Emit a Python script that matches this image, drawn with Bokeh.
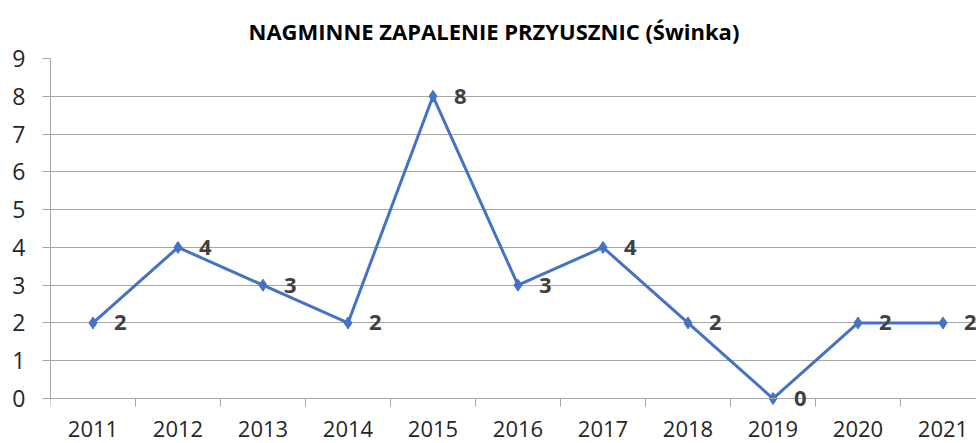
from bokeh.plotting import figure
from bokeh.models import Range1d, FixedTicker, ColumnDataSource, Title, LabelSet
from bokeh.core.properties import value
from bokeh.embed import file_html
from bokeh.resources import INLINE

years = ["2011", "2012", "2013", "2014", "2015", "2016", "2017", "2018", "2019", "2020", "2021"]
cases = [2, 4, 3, 2, 8, 3, 4, 2, 0, 2, 2]
y_ticks = [0, 1, 2, 3, 4, 5, 6, 7, 8, 9]
title_text = "NAGMINNE ZAPALENIE PRZYUSZNIC (Świnka)"

FONT = "Open Sans"
idx = list(range(len(years)))
src = ColumnDataSource(dict(x=idx, y=cases, lbl=[str(v) for v in cases]))

W, H = 976, 443
cat_px = 85.0
unit_px = 37.78
top_b = 58
left_b = 50
frame_w = W - left_b
frame_h = H - top_b
y_lo = 9 - frame_h / unit_px   # frame runs below 0 so labels under the axis stay visible

p = figure(width=W, height=H, output_backend="svg", toolbar_location=None,
           x_axis_location="above",
           x_range=Range1d(-0.5, -0.5 + frame_w / cat_px), y_range=Range1d(y_lo, 9),
           min_border_left=left_b, min_border_right=0,
           min_border_top=top_b, min_border_bottom=0)
p.outline_line_color = None
p.background_fill_color = "white"

t = Title(text=title_text, align="left", offset=198,
          text_font=FONT, text_font_size="22px", text_font_style="bold",
          text_color="#000000", standoff=26)
p.add_layout(t, "above")

p.line("x", "y", source=src, line_color="#4472C4", line_width=3)
p.scatter("x", "y", source=src, marker="diamond", size=12, fill_color="#4472C4",
          line_color="#4472C4")
p.add_layout(LabelSet(x="x", y="y", text="lbl", source=src, x_offset=21,
                      text_baseline="middle", text_align="left",
                      text_font=value(FONT), text_font_size=value("22px"),
                      text_font_style="bold", text_color="#404040"))

# x axis fixed at y=0: labels at centers, tick marks at category boundaries
xa = p.xaxis[0]
xa.fixed_location = 0
xa.ticker = FixedTicker(ticks=idx, minor_ticks=[i - 0.5 for i in range(len(years) + 1)])
xa.major_label_overrides = {i: y for i, y in enumerate(years)}
xa.major_tick_line_color = None
xa.major_tick_out = 0
xa.major_tick_in = 0
xa.minor_tick_line_color = "#A6A6A6"
xa.minor_tick_out = 0
xa.minor_tick_in = 8
xa.axis_line_color = "#A6A6A6"
xa.major_label_text_font = FONT
xa.major_label_text_font_size = "22px"
xa.major_label_text_color = "#262626"
xa.major_label_standoff = -38

ya = p.yaxis[0]
ya.bounds = (0, 9)
ya.ticker = FixedTicker(ticks=y_ticks, minor_ticks=[])
ya.axis_line_color = "#A6A6A6"
ya.major_tick_line_color = "#A6A6A6"
ya.major_tick_out = 8
ya.major_tick_in = 0
ya.minor_tick_line_color = None
ya.major_label_text_font = FONT
ya.major_label_text_font_size = "23px"
ya.major_label_text_color = "#262626"
ya.major_label_standoff = 17

p.xgrid.grid_line_color = None
p.ygrid.ticker = FixedTicker(ticks=y_ticks)
p.ygrid.grid_line_color = "#A6A6A6"
p.ygrid.grid_line_width = 1

open("out.html", "w").write(file_html(p, INLINE))
